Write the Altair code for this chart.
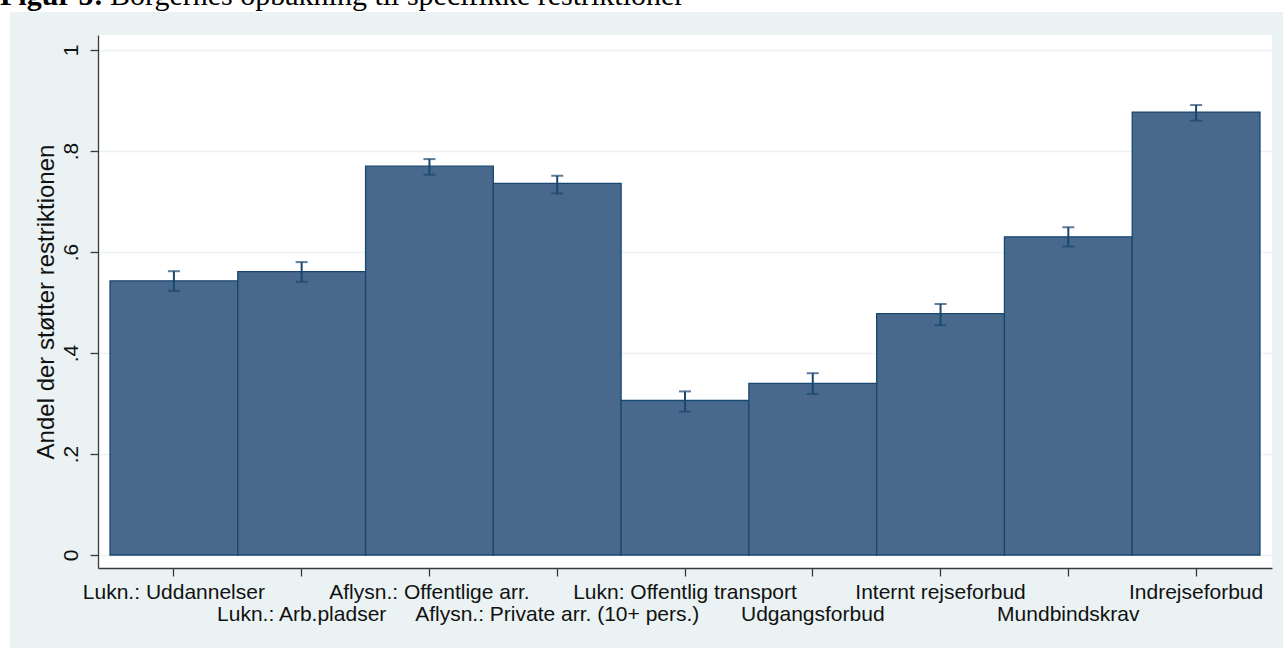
import altair as alt
import pandas as pd

categories = [
    "Lukn.: Uddannelser",
    "Lukn.: Arb.pladser",
    "Aflysn.: Offentlige arr.",
    "Aflysn.: Private arr. (10+ pers.)",
    "Lukn: Offentlig transport",
    "Udgangsforbud",
    "Internt rejseforbud",
    "Mundbindskrav",
    "Indrejseforbud",
]
shares = [0.543, 0.561, 0.770, 0.736, 0.306, 0.340, 0.478, 0.630, 0.877]
ci_low = [0.523, 0.541, 0.753, 0.716, 0.284, 0.319, 0.455, 0.611, 0.860]
ci_high = [0.562, 0.580, 0.784, 0.751, 0.324, 0.360, 0.497, 0.649, 0.891]
y_ticks = [0, 0.2, 0.4, 0.6, 0.8, 1.0]
title_bold = "Figur 5:"
title_rest = "Borgernes opbakning til specifikke restriktioner"

df = pd.DataFrame({"cat": categories, "share": shares, "lo": ci_low, "hi": ci_high})
second_row = [c for i, c in enumerate(categories) if i % 2 == 1]

FONT = "Liberation Sans"
BG = "#EAF2F3"
NAVY = "#1A476F"
W, H = 1174, 533

odd_list = "[" + ",".join("'" + c + "'" for c in second_row) + "]"

x_enc = alt.X(
    "cat:N",
    sort=categories,
    scale=alt.Scale(paddingInner=0, paddingOuter=0.094),
    axis=alt.Axis(
        title=None,
        labelAngle=0,
        labelExpr=f"indexof({odd_list}, datum.value) >= 0 ? ['', datum.label] : datum.label",
        labelLineHeight=22,
        labelBaseline="top",
        labelPadding=5,
        labelOverlap=False,
        labelBound=False,
        labelLimit=0,
        tickSize=8,
        labelFontSize=21,
    ),
)

y_scale = alt.Scale(domain=[-0.0257, 1.0297], nice=False, zero=False)

base = alt.Chart(df)

bars = base.mark_bar(fill="#48698B", stroke=NAVY, strokeWidth=1.3).encode(
    x=x_enc,
    y=alt.Y(
        "share:Q",
        scale=y_scale,
        title="Andel der støtter restriktionen",
        axis=alt.Axis(
            values=y_ticks,
            labelExpr="datum.value == 0 ? '0' : datum.value == 1 ? '1' : replace(format(datum.value, '.1f'), '0.', '.')",
            labelAngle=270,
            labelAlign="center",
            labelBaseline="bottom",
            labelPadding=9,
            tickSize=8,
            labelFontSize=21,
            titleFontSize=24,
            titleFontWeight="normal",
            titlePadding=2,
            grid=True,
            gridColor=BG,
            gridWidth=1.5,
        ),
    ),
    y2=alt.datum(0),
)

rules = base.mark_rule(color=NAVY, strokeWidth=2).encode(
    x=alt.X("cat:N", sort=categories), y="lo:Q", y2="hi:Q"
)
cap_lo = base.mark_tick(color=NAVY, thickness=2, size=12).encode(
    x=alt.X("cat:N", sort=categories), y="lo:Q"
)
cap_hi = base.mark_tick(color=NAVY, thickness=2, size=12).encode(
    x=alt.X("cat:N", sort=categories), y="hi:Q"
)

# white margins outside the light graph region (decoration)
strip_top = alt.Chart(pd.DataFrame({"a": [0]})).mark_rect(fill="white").encode(
    x=alt.value(-98), x2=alt.value(W + 11), y=alt.value(-35), y2=alt.value(-23)
)
strip_left = alt.Chart(pd.DataFrame({"a": [0]})).mark_rect(fill="white").encode(
    x=alt.value(-98), x2=alt.value(-88), y=alt.value(-35), y2=alt.value(H + 80)
)
title_a = alt.Chart(pd.DataFrame({"t": [title_bold]})).mark_text(
    font="Liberation Serif", fontSize=30, fontWeight="bold", align="left", baseline="alphabetic", color="black"
).encode(text="t:N", x=alt.value(-98), y=alt.value(-30))
title_b = alt.Chart(pd.DataFrame({"t": [title_rest]})).mark_text(
    font="Liberation Serif", fontSize=30, align="left", baseline="alphabetic", color="black"
).encode(text="t:N", x=alt.value(12), y=alt.value(-30))

chart = (
    alt.layer(strip_top, strip_left, title_a, title_b, bars, rules, cap_lo, cap_hi)
    .properties(
        width=W,
        height=H,
        autosize=alt.AutoSizeParams(type="none"),
        padding={"left": 98, "top": 35, "right": 11, "bottom": 80},
        background=BG,
    )
    .configure_view(fill="white", stroke=None)
    .configure_axis(
        labelFont=FONT,
        titleFont=FONT,
        labelColor="#111111",
        titleColor="#111111",
        domainColor="#3a3a3a",
        tickColor="#3a3a3a",
        domainWidth=1.3,
        tickWidth=1.3,
    )
)

chart.save("out.html", embed_options={"renderer": "svg", "actions": False})
